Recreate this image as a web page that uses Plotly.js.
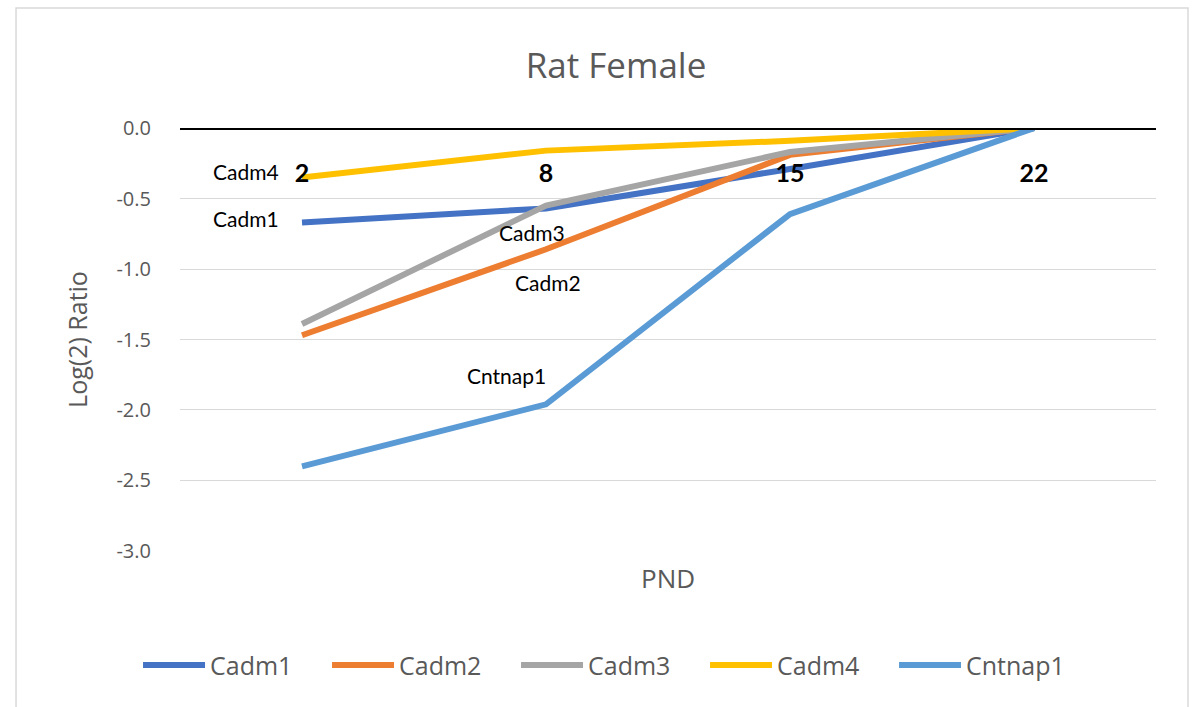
<!DOCTYPE html>
<html>
<head>
<meta charset="utf-8">
<script src="https://cdn.plot.ly/plotly-3.0.1.min.js"></script>
<style>
  html, body { margin: 0; padding: 0; background: #ffffff; }
  #chart { width: 1195px; height: 707px; }
</style>
</head>
<body>
<div id="chart"></div>
<script>
// Postnatal day (PND) categories
const categories = ['2', '8', '15', '22'];

// Log(2) ratio per gene, relative to PND 22
const cadm1   = [-0.67, -0.57, -0.29, 0.0];
const cadm2   = [-1.47, -0.86, -0.19, 0.0];
const cadm3   = [-1.39, -0.55, -0.17, 0.0];
const cadm4   = [-0.35, -0.16, -0.09, 0.0];
const cntnap1 = [-2.40, -1.96, -0.61, 0.0];

// Y axis ticks, written with a plain hyphen
const yTickValues = [0, -0.5, -1, -1.5, -2, -2.5, -3];
const yTickLabels = ['0.0', '-0.5', '-1.0', '-1.5', '-2.0', '-2.5', '-3.0'];

const seriesNames = ['Cadm1', 'Cadm2', 'Cadm3', 'Cadm4', 'Cntnap1'];
const seriesValues = [cadm1, cadm2, cadm3, cadm4, cntnap1];
const seriesColors = ['#4472C4', '#ED7D31', '#A5A5A5', '#FFC000', '#5B9BD5'];

const GRAY = '#595959';
const SANS = '"Open Sans", "Noto Sans", sans-serif';
const CALIBRI = 'Lato, "Open Sans", sans-serif';

const traces = seriesNames.map((name, i) => ({
  type: 'scatter',
  mode: 'lines',
  name: name,
  x: categories,
  y: seriesValues[i],
  line: { color: seriesColors[i], width: 6 },
  hoverinfo: 'x+y+name'
}));

// In-plot gene labels (paper coordinates)
const labelSpots = [
  { text: 'Cadm4',   x: 0.068, y: 0.896 },
  { text: 'Cadm1',   x: 0.068, y: 0.785 },
  { text: 'Cadm3',   x: 0.361, y: 0.752 },
  { text: 'Cadm2',   x: 0.377, y: 0.634 },
  { text: 'Cntnap1', x: 0.335, y: 0.414 }
];

const annotations = labelSpots.map(s => ({
  text: s.text, x: s.x, y: s.y, xref: 'paper', yref: 'paper',
  xanchor: 'center', yanchor: 'middle', showarrow: false,
  font: { family: CALIBRI, size: 21, color: '#000000' }
}));

annotations.push({
  text: 'PND', x: 0.5, y: -0.064, xref: 'paper', yref: 'paper',
  xanchor: 'center', yanchor: 'middle', showarrow: false,
  font: { family: SANS, size: 26, color: GRAY }
});

const layout = {
  width: 1195,
  height: 707,
  paper_bgcolor: '#ffffff',
  plot_bgcolor: '#ffffff',
  margin: { l: 180, r: 39, t: 128, b: 156, autoexpand: false },
  title: {
    text: 'Rat Female',
    xref: 'container', x: 0.5155, xanchor: 'center',
    yref: 'container', y: 0.907, yanchor: 'middle',
    font: { family: SANS, size: 35, color: GRAY }
  },
  xaxis: {
    type: 'category',
    range: [-0.5, 3.5],
    anchor: 'free',
    position: 1,
    side: 'bottom',
    showline: true,
    linecolor: '#000000',
    linewidth: 1.5,
    showgrid: false,
    zeroline: false,
    ticks: '',
    ticklabelstandoff: 22,
    tickfont: { family: CALIBRI, size: 25, color: '#000000', weight: 'bold' },
    automargin: false,
    fixedrange: true
  },
  yaxis: {
    range: [-3.0005, 0.0005],
    tickmode: 'array',
    tickvals: yTickValues,
    ticktext: yTickLabels,
    showgrid: true,
    gridcolor: '#d9d9d9',
    gridwidth: 1,
    zeroline: false,
    showline: false,
    ticks: '',
    ticklabelstandoff: 28,
    tickfont: { family: SANS, size: 20, color: GRAY },
    title: { text: 'Log(2) Ratio', standoff: 21, font: { family: SANS, size: 25, color: GRAY } },
    automargin: false,
    fixedrange: true
  },
  showlegend: true,
  legend: {
    orientation: 'h',
    x: -0.043, xanchor: 'left',
    y: -0.27, yanchor: 'middle',
    itemwidth: 62,
    entrywidth: 112,
    entrywidthmode: 'pixels',
    font: { family: SANS, size: 25, color: GRAY },
    bgcolor: 'rgba(0,0,0,0)'
  },
  annotations: annotations,
  shapes: [{
    type: 'rect', xref: 'paper', yref: 'paper',
    x0: -0.168, x1: 1.0328, y0: -0.375, y1: 1.2837,
    line: { color: '#d9d9d9', width: 1.5 },
    fillcolor: 'rgba(0,0,0,0)',
    layer: 'below'
  }]
};

Plotly.newPlot('chart', traces, layout, { displayModeBar: false, staticPlot: true });
</script>
</body>
</html>
